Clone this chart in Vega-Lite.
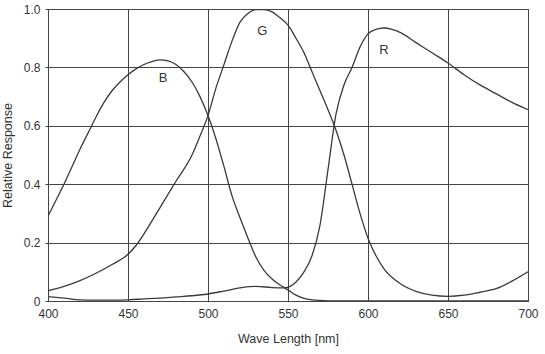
{
  "$schema": "https://vega.github.io/schema/vega-lite/v6.json",
  "width": 480,
  "height": 292,
  "autosize": "none",
  "padding": {"left": 48, "top": 9, "right": 17, "bottom": 53},
  "background": "white",
  "config": {
    "view": {"stroke": "#444", "strokeWidth": 1},
    "font": "Liberation Sans",
    "axis": {"labelFont": "Liberation Sans", "titleFont": "Liberation Sans", "labelColor": "#333", "titleColor": "#333", "labelFontSize": 12, "titleFontSize": 12.5, "titleFontWeight": "normal", "gridColor": "#444", "gridOpacity": 1, "gridWidth": 1, "domainColor": "#444", "tickColor": "#444"}
  },
  "datasets": {
    "curves": [
      {"wl": 400, "v": 0.29, "ch": "B"}, {"wl": 405, "v": 0.345, "ch": "B"}, {"wl": 410, "v": 0.4, "ch": "B"}, {"wl": 415, "v": 0.46, "ch": "B"}, {"wl": 420, "v": 0.52, "ch": "B"}, {"wl": 425, "v": 0.575, "ch": "B"}, {"wl": 430, "v": 0.63, "ch": "B"}, {"wl": 435, "v": 0.68, "ch": "B"}, {"wl": 440, "v": 0.72, "ch": "B"}, {"wl": 445, "v": 0.75, "ch": "B"}, {"wl": 450, "v": 0.775, "ch": "B"}, {"wl": 455, "v": 0.795, "ch": "B"}, {"wl": 460, "v": 0.81, "ch": "B"}, {"wl": 465, "v": 0.82, "ch": "B"}, {"wl": 470, "v": 0.826, "ch": "B"}, {"wl": 475, "v": 0.822, "ch": "B"}, {"wl": 480, "v": 0.81, "ch": "B"}, {"wl": 485, "v": 0.785, "ch": "B"}, {"wl": 490, "v": 0.75, "ch": "B"}, {"wl": 495, "v": 0.7, "ch": "B"}, {"wl": 500, "v": 0.635, "ch": "B"}, {"wl": 505, "v": 0.555, "ch": "B"}, {"wl": 510, "v": 0.46, "ch": "B"}, {"wl": 515, "v": 0.36, "ch": "B"}, {"wl": 520, "v": 0.285, "ch": "B"}, {"wl": 525, "v": 0.215, "ch": "B"}, {"wl": 530, "v": 0.15, "ch": "B"}, {"wl": 535, "v": 0.105, "ch": "B"}, {"wl": 540, "v": 0.075, "ch": "B"}, {"wl": 545, "v": 0.055, "ch": "B"}, {"wl": 550, "v": 0.038, "ch": "B"}, {"wl": 555, "v": 0.02, "ch": "B"}, {"wl": 560, "v": 0.009, "ch": "B"}, {"wl": 565, "v": 0.004, "ch": "B"}, {"wl": 570, "v": 0.002, "ch": "B"}, {"wl": 580, "v": 0.0, "ch": "B"}, {"wl": 600, "v": 0.0, "ch": "B"}, {"wl": 650, "v": 0.0, "ch": "B"}, {"wl": 700, "v": 0.0, "ch": "B"},
      {"wl": 400, "v": 0.035, "ch": "G"}, {"wl": 410, "v": 0.05, "ch": "G"}, {"wl": 420, "v": 0.07, "ch": "G"}, {"wl": 430, "v": 0.095, "ch": "G"}, {"wl": 440, "v": 0.125, "ch": "G"}, {"wl": 450, "v": 0.16, "ch": "G"}, {"wl": 455, "v": 0.19, "ch": "G"}, {"wl": 460, "v": 0.23, "ch": "G"}, {"wl": 470, "v": 0.32, "ch": "G"}, {"wl": 480, "v": 0.41, "ch": "G"}, {"wl": 490, "v": 0.5, "ch": "G"}, {"wl": 495, "v": 0.565, "ch": "G"}, {"wl": 500, "v": 0.635, "ch": "G"}, {"wl": 505, "v": 0.73, "ch": "G"}, {"wl": 510, "v": 0.81, "ch": "G"}, {"wl": 515, "v": 0.89, "ch": "G"}, {"wl": 520, "v": 0.955, "ch": "G"}, {"wl": 525, "v": 0.985, "ch": "G"}, {"wl": 530, "v": 0.998, "ch": "G"}, {"wl": 535, "v": 0.998, "ch": "G"}, {"wl": 540, "v": 0.99, "ch": "G"}, {"wl": 545, "v": 0.97, "ch": "G"}, {"wl": 550, "v": 0.945, "ch": "G"}, {"wl": 555, "v": 0.9, "ch": "G"}, {"wl": 560, "v": 0.85, "ch": "G"}, {"wl": 565, "v": 0.785, "ch": "G"}, {"wl": 570, "v": 0.72, "ch": "G"}, {"wl": 575, "v": 0.655, "ch": "G"}, {"wl": 580, "v": 0.585, "ch": "G"}, {"wl": 585, "v": 0.5, "ch": "G"}, {"wl": 590, "v": 0.4, "ch": "G"}, {"wl": 595, "v": 0.3, "ch": "G"}, {"wl": 600, "v": 0.215, "ch": "G"}, {"wl": 605, "v": 0.155, "ch": "G"}, {"wl": 610, "v": 0.11, "ch": "G"}, {"wl": 620, "v": 0.06, "ch": "G"}, {"wl": 630, "v": 0.033, "ch": "G"}, {"wl": 640, "v": 0.02, "ch": "G"}, {"wl": 650, "v": 0.016, "ch": "G"}, {"wl": 660, "v": 0.02, "ch": "G"}, {"wl": 670, "v": 0.03, "ch": "G"}, {"wl": 680, "v": 0.042, "ch": "G"}, {"wl": 690, "v": 0.068, "ch": "G"}, {"wl": 700, "v": 0.1, "ch": "G"},
      {"wl": 400, "v": 0.015, "ch": "R"}, {"wl": 410, "v": 0.01, "ch": "R"}, {"wl": 420, "v": 0.004, "ch": "R"}, {"wl": 430, "v": 0.003, "ch": "R"}, {"wl": 440, "v": 0.003, "ch": "R"}, {"wl": 450, "v": 0.004, "ch": "R"}, {"wl": 460, "v": 0.007, "ch": "R"}, {"wl": 470, "v": 0.01, "ch": "R"}, {"wl": 480, "v": 0.014, "ch": "R"}, {"wl": 490, "v": 0.018, "ch": "R"}, {"wl": 500, "v": 0.024, "ch": "R"}, {"wl": 510, "v": 0.034, "ch": "R"}, {"wl": 520, "v": 0.045, "ch": "R"}, {"wl": 530, "v": 0.05, "ch": "R"}, {"wl": 540, "v": 0.046, "ch": "R"}, {"wl": 548, "v": 0.045, "ch": "R"}, {"wl": 555, "v": 0.065, "ch": "R"}, {"wl": 560, "v": 0.1, "ch": "R"}, {"wl": 565, "v": 0.155, "ch": "R"}, {"wl": 570, "v": 0.26, "ch": "R"}, {"wl": 575, "v": 0.45, "ch": "R"}, {"wl": 580, "v": 0.64, "ch": "R"}, {"wl": 585, "v": 0.74, "ch": "R"}, {"wl": 590, "v": 0.8, "ch": "R"}, {"wl": 595, "v": 0.87, "ch": "R"}, {"wl": 600, "v": 0.915, "ch": "R"}, {"wl": 605, "v": 0.93, "ch": "R"}, {"wl": 610, "v": 0.935, "ch": "R"}, {"wl": 615, "v": 0.93, "ch": "R"}, {"wl": 620, "v": 0.92, "ch": "R"}, {"wl": 630, "v": 0.885, "ch": "R"}, {"wl": 640, "v": 0.85, "ch": "R"}, {"wl": 650, "v": 0.815, "ch": "R"}, {"wl": 660, "v": 0.775, "ch": "R"}, {"wl": 670, "v": 0.74, "ch": "R"}, {"wl": 680, "v": 0.71, "ch": "R"}, {"wl": 690, "v": 0.68, "ch": "R"}, {"wl": 700, "v": 0.655, "ch": "R"}
    ],
    "labels": [
      {"wl": 472, "v": 0.765, "t": "B"},
      {"wl": 534, "v": 0.925, "t": "G"},
      {"wl": 610, "v": 0.86, "t": "R"}
    ]
  },
  "layer": [
    {
      "data": {"name": "curves"},
      "mark": {"type": "line", "interpolate": "monotone", "color": "#3a3a3a", "strokeWidth": 1.3, "clip": true},
      "encoding": {
        "x": {"field": "wl", "type": "quantitative", "scale": {"domain": [400, 700], "nice": false, "zero": false}, "axis": {"values": [400, 450, 500, 550, 600, 650, 700], "title": "Wave Length [nm]", "tickSize": 0, "labelPadding": 7, "titlePadding": 13, "labelFlush": false}},
        "y": {"field": "v", "type": "quantitative", "scale": {"domain": [0, 1], "nice": false}, "axis": {"values": [0, 0.2, 0.4, 0.6, 0.8, 1.0], "labelExpr": "datum.value == 0 ? '0' : format(datum.value, '.1f')", "title": "Relative Response", "tickSize": 3, "labelPadding": 5, "titlePadding": 9}},
        "detail": {"field": "ch", "type": "nominal"}
      }
    },
    {
      "data": {"name": "labels"},
      "mark": {"type": "text", "fontSize": 13, "color": "#333", "font": "Liberation Sans"},
      "encoding": {
        "x": {"field": "wl", "type": "quantitative"},
        "y": {"field": "v", "type": "quantitative"},
        "text": {"field": "t", "type": "nominal"}
      }
    }
  ]
}
